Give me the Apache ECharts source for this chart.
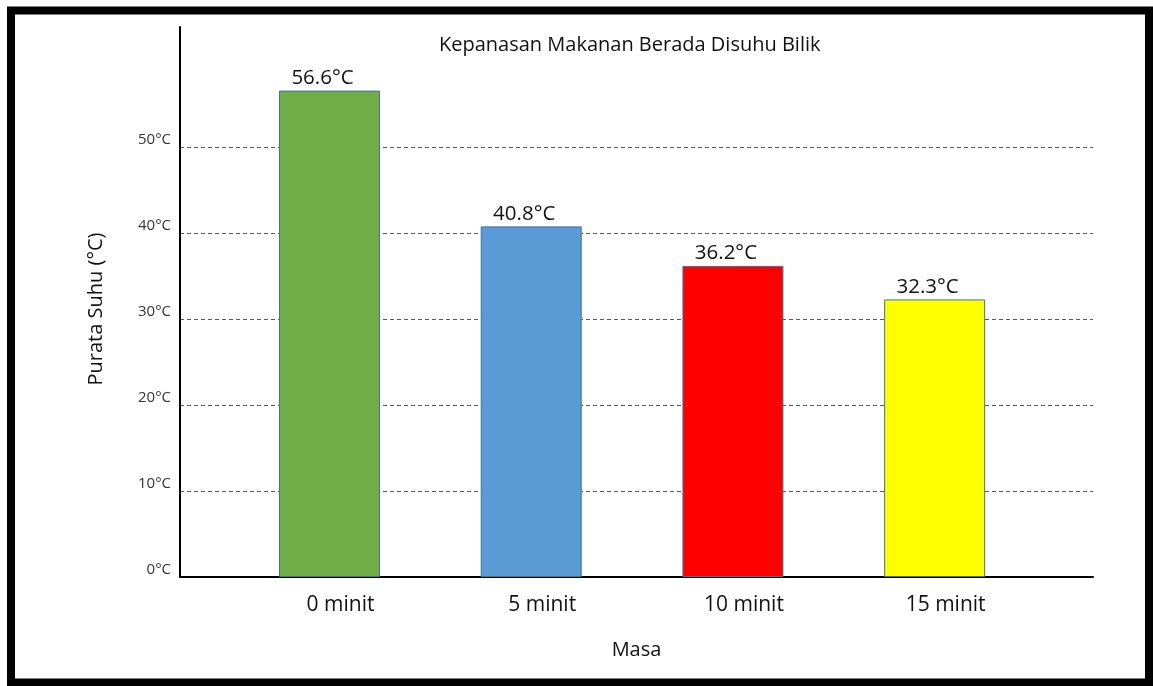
<!DOCTYPE html>
<html>
<head>
<meta charset="utf-8">
<script src="https://cdn.jsdelivr.net/npm/echarts@6/dist/echarts.min.js"></script>
<style>
  html, body { margin: 0; padding: 0; background: #fff; }
  #main { width: 1153px; height: 686px; }
</style>
</head>
<body>
<div id="main"></div>
<script>
const categories = ["0 minit", "5 minit", "10 minit", "15 minit"];
const temps = [56.6, 40.8, 36.2, 32.3];
const yTicks = [0, 10, 20, 30, 40, 50];
const barColors = ["#70AD47", "#5B9BD5", "#FF0000", "#FFFF00"];

const font = "Open Sans";
var myChart = echarts.init(document.getElementById("main"));

myChart.setOption({
  animation: false,
  backgroundColor: "#fff",
  textStyle: { fontFamily: font },
  title: {
    text: "Kepanasan Makanan Berada Disuhu Bilik",
    left: 434,
    top: 30,
    textStyle: { fontSize: 20, fontWeight: "normal", color: "#111", fontFamily: font }
  },
  graphic: [
    {
      // outer frame
      type: "rect",
      shape: { x: 11, y: 10.5, width: 1138, height: 672 },
      style: { fill: "none", stroke: "#000", lineWidth: 8 },
      silent: true
    }
  ],
  grid: [
    // grid 0: axis lines, labels and dashed lines
    { left: 180, right: 60, top: 147, bottom: 109 },
    // grid 1: bars
    { left: 228.65, right: 117.5, top: 27, bottom: 109 }
  ],
  xAxis: [
    {
      gridIndex: 0,
      type: "value",
      min: 0,
      max: 1,
      axisLine: { show: true, lineStyle: { color: "#000", width: 2 } },
      axisTick: { show: false },
      axisLabel: { show: false },
      splitLine: { show: false },
      name: "Masa",
      nameLocation: "middle",
      nameGap: 63,
      nameTextStyle: { fontSize: 20, color: "#111", fontFamily: font }
    },
    {
      gridIndex: 1,
      type: "category",
      data: categories,
      axisLine: { show: false },
      axisTick: { show: false },
      axisLabel: {
        fontSize: 21,
        color: "#111",
        margin: 18,
        padding: [0, 0, 0, 22],
        fontFamily: font
      }
    }
  ],
  yAxis: [
    {
      gridIndex: 0,
      type: "value",
      min: yTicks[0],
      max: yTicks[yTicks.length - 1],
      interval: 10,
      axisLine: { show: false },
      axisTick: { show: false },
      axisLabel: {
        formatter: "{value}°C",
        fontSize: 15,
        color: "#333",
        verticalAlign: "bottom",
        margin: 9,
        fontFamily: font
      },
      splitLine: {
        show: true,
        showMinLine: false,
        lineStyle: { color: "#595959", width: 1, type: [4, 3] }
      }
    },
    {
      gridIndex: 1,
      type: "value",
      min: 0,
      max: 64,
      offset: 48.65,
      axisLine: { show: true, lineStyle: { color: "#000", width: 2 } },
      axisTick: { show: false },
      axisLabel: { show: false },
      splitLine: { show: false },
      name: "Purata Suhu (°C)",
      nameLocation: "middle",
      nameRotate: 90,
      nameGap: 74,
      nameTextStyle: { fontSize: 20, color: "#111", fontFamily: font, padding: [0, 14, 0, 0] }
    }
  ],
  series: [
    {
      name: "Purata Suhu",
      type: "bar",
      xAxisIndex: 1,
      yAxisIndex: 1,
      barWidth: 101,
      data: temps.map(function (v, i) {
        return { value: v, itemStyle: { color: barColors[i] } };
      }),
      itemStyle: { borderColor: "#41719C", borderWidth: 1 },
      label: {
        show: true,
        position: "top",
        distance: 2,
        offset: [-7, 0],
        formatter: "{c}°C",
        fontSize: 20.5,
        color: "#111",
        fontFamily: font
      }
    }
  ]
});
</script>
</body>
</html>
